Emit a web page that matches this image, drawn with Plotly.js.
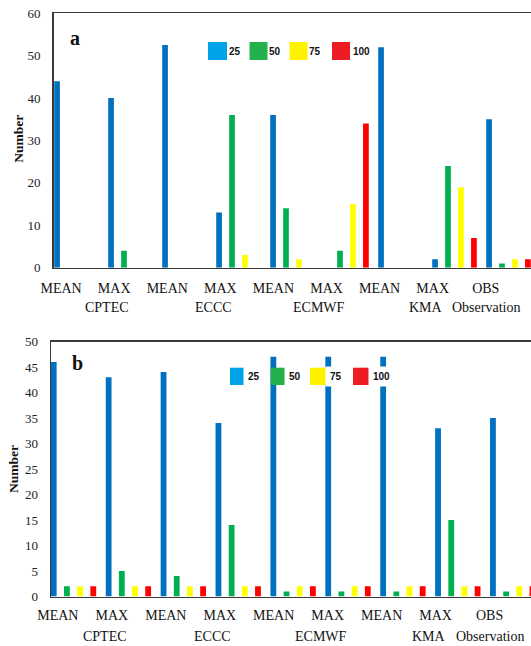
<!DOCTYPE html>
<html>
<head>
<meta charset="utf-8">
<script src="https://cdn.plot.ly/plotly-3.0.1.min.js"></script>
<style>
html,body{margin:0;padding:0;overflow:hidden;background:#fff;}
#chart{width:531px;height:646px;}
</style>
</head>
<body>
<div id="chart"></div>
<script>
// ---------- data ----------
const groupLabels = ['MEAN','MAX','MEAN','MAX','MEAN','MAX','MEAN','MAX','OBS'];
const modelLabels = ['CPTEC','ECCC','ECMWF','KMA','Observation'];
const seriesNames = ['25','50','75','100'];

// panel a
const a25  = [44, 40, 52.5, 13, 36, 0, 52, 2, 35];
const a50  = [0, 4, 0, 36, 14, 4, 0, 24, 1];
const a75  = [0, 0, 0, 3, 2, 15, 0, 19, 2];
const a100 = [0, 0, 0, 0, 0, 34, 0, 7, 2];

// panel b
const b25  = [46, 43, 44, 34, 47, 47, 47, 33, 35];
const b50  = [2, 5, 4, 14, 1, 1, 1, 15, 1];
const b75  = [2, 2, 2, 2, 2, 2, 2, 2, 2];
const b100 = [2, 2, 2, 2, 2, 2, 2, 2, 2];

const yTicksA = [0,10,20,30,40,50,60];
const yTicksB = [0,5,10,15,20,25,30,35,40,45,50];

// ---------- styling ----------
const W = 531, H = 646;
const barColors = ['#0070C0', '#00B050', '#FFFF00', '#FF0000'];
const legendColors = ['#00A2E8', '#22B14C', '#FFF200', '#ED1C24'];
const serif = 'Liberation Serif, Times New Roman, serif';
const px = v => v / W;
const py = v => 1 - v / H;

const xIdx = groupLabels.map((_, i) => i);
const tickPos = groupLabels.map((_, i) => -0.285 + 0.983 * i);
const modelPos = [0.57, 2.53, 4.5, 6.47, 7.58];

const dataA = [a25, a50, a75, a100];
const dataB = [b25, b50, b75, b100];
const traces = [];
dataA.forEach((vals, k) => traces.push({
  type: 'bar', x: xIdx, y: vals, name: seriesNames[k], xaxis: 'x', yaxis: 'y',
  marker: {color: barColors[k], line: {width: 0}}, showlegend: false, hoverinfo: 'y'
}));
dataB.forEach((vals, k) => traces.push({
  type: 'bar', x: xIdx, y: vals, name: seriesNames[k], xaxis: 'x2', yaxis: 'y2',
  marker: {color: barColors[k], line: {width: 0}}, showlegend: false, hoverinfo: 'y'
}));

function xAxis(domainLeft, range, anchor, standoff) {
  return {
    domain: [px(domainLeft), 1], range: range, anchor: anchor,
    tickmode: 'array', tickvals: tickPos, ticktext: groupLabels,
    ticks: '', showgrid: false, zeroline: false,
    showline: true, linecolor: '#3a3a3a', linewidth: 1.3, mirror: true,
    tickfont: {family: serif, size: 14, color: '#111'},
    ticklabelstandoff: standoff, fixedrange: true
  };
}
function yAxis(top, bottom, range, tickvals, anchor) {
  return {
    domain: [py(bottom), py(top)], range: range, anchor: anchor,
    tickmode: 'array', tickvals: tickvals, ticks: '',
    showgrid: false, zeroline: false,
    showline: true, linecolor: '#3a3a3a', linewidth: 1.3, mirror: false,
    tickfont: {family: serif, size: 13, color: '#222'},
    ticklabelstandoff: 9, fixedrange: true
  };
}

const shapes = [];
const annotations = [];

// legends (drawn as paper shapes + text)
function addLegend(squares, textLefts, top, bottom, cover) {
  squares.forEach((s, k) => {
    shapes.push({type: 'rect', xref: 'paper', yref: 'paper', layer: 'above',
      x0: px(s[0]), x1: px(s[1]), y0: py(bottom), y1: py(top),
      fillcolor: legendColors[k], line: {width: 0}});
    annotations.push({xref: 'paper', yref: 'paper', x: px(textLefts[k]), y: py((top + bottom) / 2),
      xanchor: 'left', yanchor: 'middle', showarrow: false, text: seriesNames[k],
      font: {family: 'Liberation Sans, Arial, sans-serif', size: 10, color: '#111', weight: 'bold'},
      bgcolor: cover ? '#ffffff' : 'rgba(0,0,0,0)', borderpad: cover ? 4 : 0});
  });
}
addLegend([[208,227],[249.5,267.5],[289.5,307.5],[332,350]], [227.5,267.5,307.5,351.5], 42, 60, false);
addLegend([[230,247.5],[270.7,288],[310,328],[353,372]], [243,284,325,368], 367.7, 385, true);

// panel letters
annotations.push({xref:'paper', yref:'paper', x: px(75), y: py(38), xanchor:'center', yanchor:'middle',
  showarrow:false, text:'<b>a</b>', font:{family: serif, size: 20, color:'#111'}});
annotations.push({xref:'paper', yref:'paper', x: px(77), y: py(363), xanchor:'center', yanchor:'middle',
  showarrow:false, text:'<b>b</b>', font:{family: serif, size: 20, color:'#111'}});

// y titles
annotations.push({xref:'paper', yref:'paper', x: px(17.7), y: py(139), xanchor:'center', yanchor:'middle',
  showarrow:false, textangle:-90, text:'<b>Number</b>', font:{family: serif, size: 13.5, color:'#111'}});
annotations.push({xref:'paper', yref:'paper', x: px(14), y: py(469), xanchor:'center', yanchor:'middle',
  showarrow:false, textangle:-90, text:'<b>Number</b>', font:{family: serif, size: 13.5, color:'#111'}});

// model labels (second row)
modelLabels.forEach((m, i) => {
  annotations.push({xref:'x', yref:'paper', x: modelPos[i], y: py(308), xanchor:'center', yanchor:'middle',
    showarrow:false, text: m, font:{family: serif, size: 14, color:'#111'}});
  annotations.push({xref:'x2', yref:'paper', x: modelPos[i], y: py(636), xanchor:'center', yanchor:'middle',
    showarrow:false, text: m, font:{family: serif, size: 14, color:'#111'}});
});

const layout = {
  width: W, height: H,
  margin: {l: 0, r: 0, t: 0, b: 0},
  paper_bgcolor: '#ffffff', plot_bgcolor: '#ffffff',
  barmode: 'group', bargap: 0.04, bargroupgap: 0.56,
  showlegend: false,
  xaxis: xAxis(53.5, [-0.426, 8.417], 'y', 7),
  yaxis: yAxis(13.3, 267.7, [0, 60], yTicksA, 'x'),
  xaxis2: xAxis(51, [-0.41, 8.333], 'y2', 5),
  yaxis2: yAxis(341.5, 596.5, [0, 50], yTicksB, 'x2'),
  shapes: shapes,
  annotations: annotations
};

Plotly.newPlot('chart', traces, layout, {displayModeBar: false, staticPlot: true});
</script>
</body>
</html>
